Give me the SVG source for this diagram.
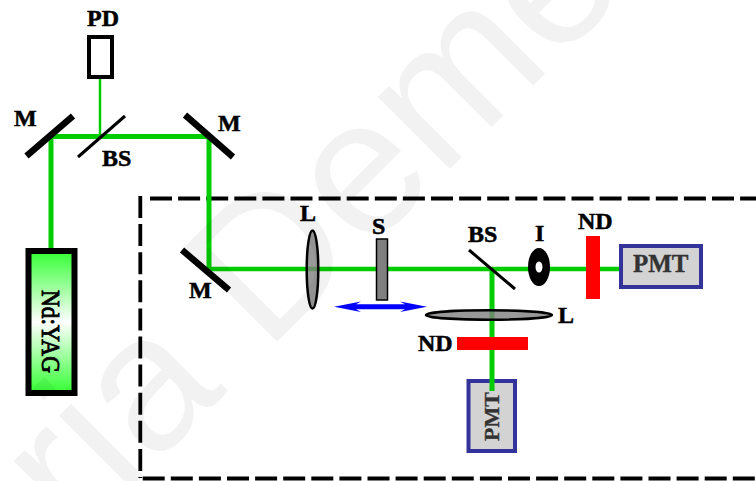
<svg xmlns="http://www.w3.org/2000/svg" width="756" height="481" viewBox="0 0 756 481">
<defs>
<style>
.lbl{font-family:"Liberation Serif","Times New Roman",serif;font-weight:700;font-size:24px;fill:#000;stroke:#000;stroke-width:.5}
.pmt{font-family:"Liberation Serif","Times New Roman",serif;font-weight:700;fill:#333;stroke:#333;stroke-width:.35}
.wm{font-family:"Liberation Sans",Arial,sans-serif;font-size:193px;fill:#000;fill-opacity:.05}
.beam{stroke:#00cc00;fill:none}
.mirror{stroke:#000;stroke-width:6.5}
.split{stroke:#000;stroke-width:3}
.box{fill:#d3d3d3;stroke:#333399;stroke-width:4}
.lens{fill:#808080;fill-opacity:.8;stroke:#000;stroke-width:2.5}
.dash{fill:none;stroke:#000;stroke-width:3.8;stroke-dasharray:22 6.1}
</style>
<linearGradient id="yag" x1="0" y1="0" x2="0" y2="1">
<stop offset="0" stop-color="#33ff33"/><stop offset="0.5" stop-color="#ffffff"/><stop offset="1" stop-color="#33ff33"/>
</linearGradient>
</defs>
<rect width="756" height="481" fill="#fff"/>
<g id="enclosure"><path class="dash" d="M140.300 196V478"/><path class="dash" d="M150 198.500H756"/><path class="dash" d="M142.700 478.500H756"/></g>
<g id="connectors">
<path class="beam" stroke-width="5" d="M51 250V136.500H209V269"/>
<path class="beam" stroke-width="4.500" d="M209 269H620"/>
<path class="beam" stroke-width="5" d="M492 269V391"/>
<path class="beam" stroke-width="2.500" d="M100 78V136"/>
</g>
<g id="laser"><rect x="28.500" y="251" width="46" height="142" fill="url(#yag)" stroke="#000" stroke-width="6"/>
<text class="lbl" style="font-size:26px;font-weight:400;stroke-width:.9" textLength="83" lengthAdjust="spacingAndGlyphs" transform="translate(41.500 290) rotate(90)">Nd:YAG</text></g>
<g id="pd"><rect x="89" y="37" width="23" height="40" fill="#fff" stroke="#000" stroke-width="4"/><text class="lbl" x="87" y="26">PD</text></g>
<g id="mirror1"><line class="mirror" x1="26.500" y1="156" x2="73" y2="116"/><text class="lbl" x="14" y="126">M</text></g>
<g id="bs1"><line class="split" x1="78" y1="157" x2="125" y2="116"/><text class="lbl" x="102" y="166">BS</text></g>
<g id="mirror2"><line class="mirror" x1="185" y1="115" x2="233" y2="157"/><text class="lbl" x="218" y="131">M</text></g>
<g id="mirror3"><line class="mirror" x1="182" y1="250" x2="229" y2="290"/><text class="lbl" x="189" y="298">M</text></g>
<g id="lens1"><ellipse class="lens" cx="312.500" cy="269.500" rx="5.800" ry="39"/><text class="lbl" x="300" y="221">L</text></g>
<g id="sample"><rect x="376.500" y="239" width="11" height="61" fill="#808080" stroke="#000" stroke-width="1.500"/><text class="lbl" x="372" y="234">S</text>
<path d="M334 306.700L361 301.500L356 304.200H405L400 301.500L427 306.700L400 312L405 309.200H356L361 312Z" fill="#0000ff"/></g>
<g id="bs2"><line class="split" x1="469" y1="250" x2="515" y2="289"/><text class="lbl" x="468" y="242">BS</text></g>
<g id="iris"><ellipse cx="539" cy="267" rx="11" ry="19" fill="#000"/><ellipse cx="539" cy="267" rx="3.500" ry="5.500" fill="#fff"/><text class="lbl" x="535" y="241">I</text></g>
<g id="nd1"><rect x="586" y="236" width="14" height="63" fill="#ff0000"/><text class="lbl" x="578" y="229">ND</text></g>
<g id="pmt1"><rect class="box" x="621" y="246" width="80" height="41"/><text class="pmt" x="633" y="272" font-size="25">PMT</text></g>
<g id="lens2"><ellipse class="lens" cx="489" cy="315" rx="63" ry="4.700"/><text class="lbl" x="558" y="323">L</text></g>
<g id="nd2"><rect x="457" y="337" width="71" height="13" fill="#ff0000"/><text class="lbl" x="418" y="351">ND</text></g>
<g id="pmt2"><rect class="box" x="468.500" y="381" width="46.500" height="70"/><path class="beam" stroke-width="5" d="M492 379V391"/><text class="pmt" font-size="22" transform="translate(499 441) rotate(-90)">PMT</text></g>
<text class="wm" transform="translate(76.500 542.500) rotate(-45)">ria Deme</text>
</svg>
